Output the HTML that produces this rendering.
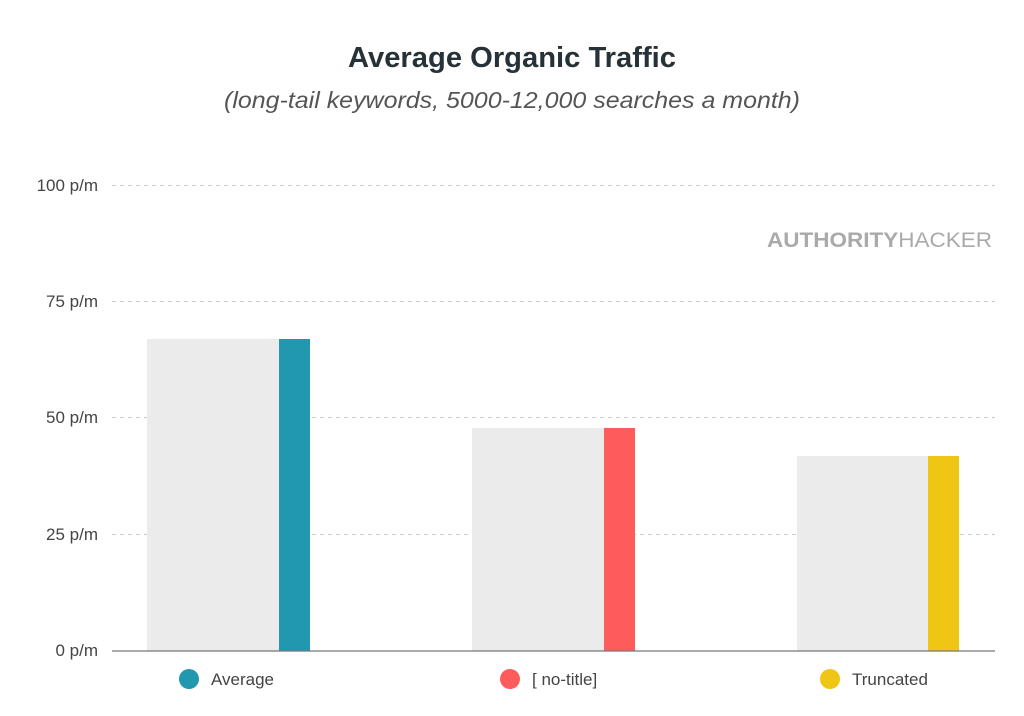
<!DOCTYPE html>
<html><head><meta charset="utf-8"><style>
html,body{margin:0;padding:0;background:#fff;width:1024px;height:716px;overflow:hidden}
svg{display:block}
</style></head><body>
<svg width="1024" height="716" viewBox="0 0 1024 716" xmlns="http://www.w3.org/2000/svg" font-family="Liberation Sans, sans-serif">
<text x="348" y="67" textLength="328" lengthAdjust="spacingAndGlyphs" font-size="29" font-weight="bold" fill="#263238">Average Organic Traffic</text>
<text x="224" y="108" textLength="576" lengthAdjust="spacingAndGlyphs" font-size="23" font-style="italic" fill="#555">(long-tail keywords, 5000-12,000 searches a month)</text>
<text x="767" y="247" textLength="225" lengthAdjust="spacingAndGlyphs" font-size="21" fill="#aaa"><tspan font-weight="bold">AUTHORITY</tspan>HACKER</text>
<g stroke="#c8c8c8" stroke-width="1" stroke-dasharray="4,4">
<line x1="112" y1="185.5" x2="995" y2="185.5"/>
<line x1="112" y1="301.5" x2="995" y2="301.5"/>
<line x1="112" y1="417.5" x2="995" y2="417.5"/>
<line x1="112" y1="534.5" x2="995" y2="534.5"/>
</g>
<g font-size="17" fill="#444" text-anchor="end">
<text x="98" y="191">100 p/m</text>
<text x="98" y="307">75 p/m</text>
<text x="98" y="423">50 p/m</text>
<text x="98" y="540">25 p/m</text>
<text x="98" y="656">0 p/m</text>
</g>
<rect x="147" y="339" width="132" height="312" fill="#ebebeb"/>
<rect x="279" y="339" width="31" height="312" fill="#2298b0"/>
<rect x="472" y="428" width="132" height="223" fill="#ebebeb"/>
<rect x="604" y="428" width="31" height="223" fill="#fe5c5c"/>
<rect x="797" y="456" width="131" height="195" fill="#ebebeb"/>
<rect x="928" y="456" width="31" height="195" fill="#f0c614"/>
<line x1="112" y1="651" x2="995" y2="651" stroke="#777" stroke-width="1.2"/>
<g font-size="17" fill="#444">
<circle cx="189" cy="679" r="10" fill="#2298b0"/><text x="211" y="685">Average</text>
<circle cx="510" cy="679" r="10" fill="#fe5c5c"/><text x="532" y="685">[ no-title]</text>
<circle cx="830" cy="679" r="10" fill="#f0c614"/><text x="852" y="685">Truncated</text>
</g>
</svg>
</body></html>
